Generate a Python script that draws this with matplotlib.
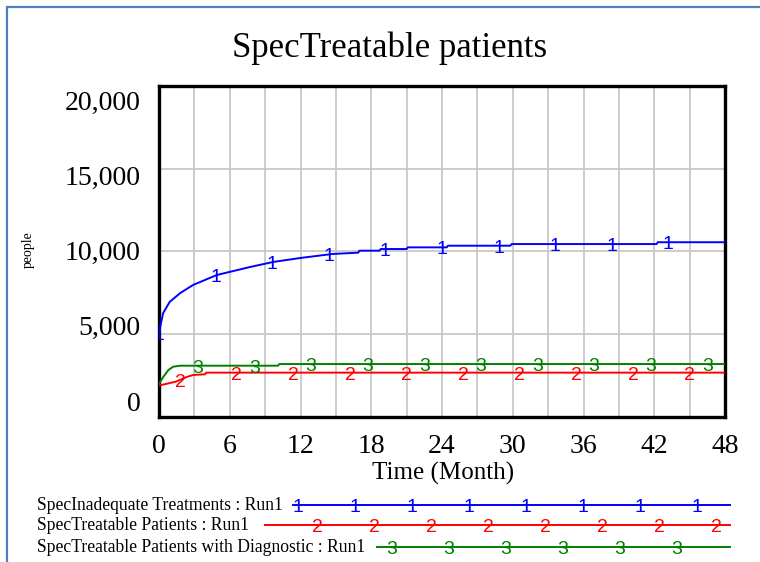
import matplotlib

matplotlib.use("Agg")
import matplotlib.pyplot as plt
import matplotlib.transforms as mtransforms
import numpy as np

# simulation output, Run1 (people vs month)
time_inadequate = [0, 0.1, 0.35, 0.9, 1.8, 2.9, 4.9, 7.7, 9.7, 12.0, 14.7, 16.9, 17.0,
                   18.7, 18.8, 21.0, 21.1, 24.4, 24.5, 29.8, 29.9, 42.2, 42.3, 48]
inadequate = [5100, 5440, 6280, 6950, 7490, 7980, 8580, 9060, 9370, 9610, 9850, 9930, 10050,
              10050, 10150, 10150, 10250, 10250, 10350, 10350, 10450, 10450, 10560, 10560]

time_treatable = [0, 1.4, 2.4, 2.9, 3.9, 4.0, 48]
treatable = [1900, 2130, 2430, 2540, 2580, 2680, 2680]

time_diagnostic = [0, 0.37, 0.8, 1.2, 1.8, 10.1, 10.2, 48]
diagnostic = [2000, 2430, 2840, 3040, 3100, 3100, 3200, 3200]

series_names = [
    "SpecInadequate Treatments : Run1",
    "SpecTreatable Patients : Run1",
    "SpecTreatable Patients with Diagnostic : Run1",
]
series_colors = ["#0000ff", "#ff0000", "#008000"]
x_ticks = [0, 6, 12, 18, 24, 30, 36, 42, 48]
y_ticks = [0, 5000, 10000, 15000, 20000]

SERIF = ["Liberation Serif", "DejaVu Serif"]
SANS = ["Liberation Sans", "DejaVu Sans"]
W, H = 760, 562

fig = plt.figure(figsize=(W / 100, H / 100), dpi=100)

# overlay in pixel coordinates for the frame border and the legend
over = fig.add_axes([0, 0, 1, 1], zorder=0)
over.set_xlim(0, W)
over.set_ylim(H, 0)
over.axis("off")
over.plot([7, 7, W + 5], [H + 5, 7, 7], color="#4f81bd", lw=1.6, solid_joinstyle="miter")

ax = fig.add_axes([159 / W, 1 - 417 / H, 566 / W, 331 / H], zorder=1)
ax.set_xlim(0, 48)
ax.set_ylim(0, 20000)

# marker digits hang a little below their line
tag_tf = mtransforms.offset_copy(ax.transData, fig=fig, y=-2.5, units="dots")

series = [
    (time_inadequate, inadequate, "1", 0.0),
    (time_treatable, treatable, "2", 1.8),
    (time_diagnostic, diagnostic, "3", 3.3),
]
for (t, v, tag, first), color in zip(series, series_colors):
    ax.plot(t, v, color=color, lw=1.4, zorder=3)
    # numbered labels every 4.8 months along each curve
    for tm in np.arange(first, 48, 4.8):
        ax.text(tm, np.interp(tm, t, v), tag, color=color, fontsize=14,
                family=SANS, ha="center", va="center", zorder=4,
                transform=tag_tf, clip_on=True)

ax.set_xticks(x_ticks)
ax.set_xticks(np.arange(3, 48, 6), minor=True)
ax.set_xticklabels([str(v) for v in x_ticks], family=SERIF)
ax.set_yticks(y_ticks)
ax.set_yticklabels([])
ax.grid(True, which="both", color="#c8c8c8", lw=1.3)
ax.tick_params(which="both", length=0, labelsize=20, pad=12)
for sp in ax.spines.values():
    sp.set_linewidth(2.4)

# value labels sit slightly inside the axis range
ylab_tf = ax.get_yaxis_transform()
for v in y_ticks:
    ax.text(-0.033, 785 + v * 0.909, f"{v:,}", transform=ylab_tf, family=SERIF,
            fontsize=20, ha="right", va="center")

fig.text(390 / W, 1 - 48 / H, "SpecTreatable patients", family=SERIF, fontsize=25,
         ha="center", va="center")
fig.text(443 / W, 1 - 473 / H, "Time (Month)", family=SERIF, fontsize=18,
         ha="center", va="center")
fig.text(28 / W, 1 - 250 / H, "people", family=SERIF, fontsize=10,
         rotation=90, ha="center", va="center")

# legend rows: label, line with numbered markers
rows = [(505, 293, 298), (525, 265, 317), (547, 377, 392)]
for name, color, (yy, x0, m0), tag in zip(series_names, series_colors, rows, "123"):
    over.text(37, yy, name, family=SERIF, fontsize=12.7, ha="left", va="center")
    over.plot([x0, 730], [yy, yy], color=color, lw=1.4)
    for mx in np.arange(m0, 730, 57):
        over.text(mx, yy + 2.5, tag, color=color, fontsize=14, family=SANS,
                  ha="center", va="center")

fig.savefig("out.png", dpi=100)
